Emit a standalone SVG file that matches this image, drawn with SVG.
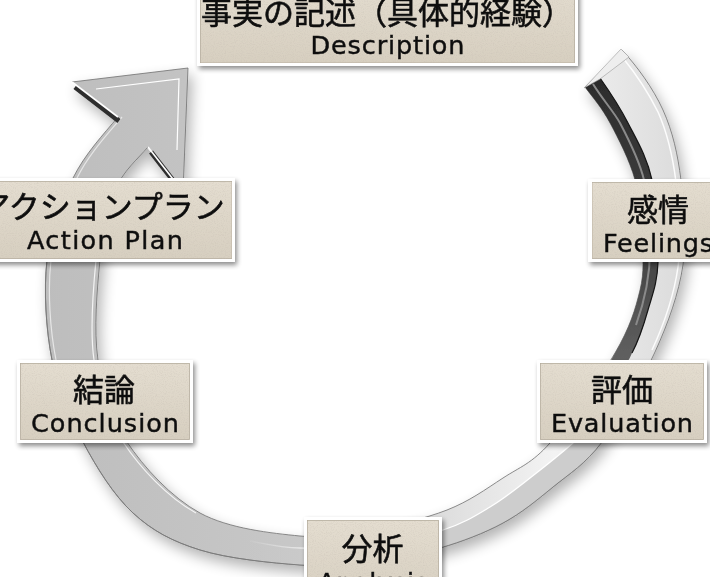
<svg xmlns="http://www.w3.org/2000/svg" width="710" height="577" viewBox="0 0 710 577">
<defs>
  <linearGradient id="gFace" gradientUnits="userSpaceOnUse" x1="40" y1="0" x2="700" y2="0">
    <stop offset="0" stop-color="#bdbdbd"/>
    <stop offset="0.45" stop-color="#c9c9c9"/>
    <stop offset="0.78" stop-color="#f3f3f3"/>
    <stop offset="1" stop-color="#d8d8d8"/>
  </linearGradient>
  <linearGradient id="gDark" x1="0" y1="0" x2="0" y2="1">
    <stop offset="0" stop-color="#2b2b2b"/>
    <stop offset="0.6" stop-color="#474747"/>
    <stop offset="1" stop-color="#6a6a6a"/>
  </linearGradient>
  <linearGradient id="gBeige" x1="0" y1="0" x2="0" y2="1">
    <stop offset="0" stop-color="#e4ddd0"/>
    <stop offset="1" stop-color="#d7cfc0"/>
  </linearGradient>
  <linearGradient id="gFadeW" gradientUnits="userSpaceOnUse" x1="245" y1="0" x2="345" y2="0">
    <stop offset="0" stop-color="#ffffff" stop-opacity="0"/>
    <stop offset="1" stop-color="#ffffff" stop-opacity="1"/>
  </linearGradient>
  <linearGradient id="gFadeS" gradientUnits="userSpaceOnUse" x1="230" y1="0" x2="330" y2="0">
    <stop offset="0" stop-color="#c6c6c6" stop-opacity="0"/>
    <stop offset="1" stop-color="#cdcdcd" stop-opacity="1"/>
  </linearGradient>
  <filter id="fRing" x="-20%" y="-20%" width="140%" height="140%">
    <feGaussianBlur in="SourceAlpha" stdDeviation="7"/>
    <feOffset dx="4" dy="7"/>
    <feComponentTransfer><feFuncA type="linear" slope="0.3"/></feComponentTransfer>
    <feMerge><feMergeNode/><feMergeNode in="SourceGraphic"/></feMerge>
  </filter>
  <filter id="fBox" x="-10%" y="-10%" width="125%" height="130%">
    <feGaussianBlur in="SourceAlpha" stdDeviation="2.5"/>
    <feOffset dx="2" dy="3"/>
    <feComponentTransfer><feFuncA type="linear" slope="0.45"/></feComponentTransfer>
    <feMerge><feMergeNode/><feMergeNode in="SourceGraphic"/></feMerge>
  </filter>
  <filter id="fGrain" x="0" y="0" width="100%" height="100%">
    <feTurbulence type="fractalNoise" baseFrequency="0.9" numOctaves="2" seed="7" result="n"/>
    <feColorMatrix in="n" type="matrix" values="0 0 0 0 0.55  0 0 0 0 0.5  0 0 0 0 0.44  0 0 0 0.9 -0.42" result="s"/>
    <feComposite in="s" in2="SourceGraphic" operator="in" result="t"/>
    <feMerge><feMergeNode in="SourceGraphic"/><feMergeNode in="t"/></feMerge>
  </filter>
  <style>
    .frame { fill: #ffffff; }
    .face { fill: url(#gBeige); stroke: #b3ab9b; stroke-width: 0.8; filter: url(#fGrain); }
    .cjk { font-family: 'Noto Sans CJK JP', 'Noto Sans CJK SC', sans-serif; font-size: 31px; font-weight: 400; fill: #111111; stroke: #111111; stroke-width: 0.6; text-anchor: middle; }
    .en { font-family: 'DejaVu Sans', 'Noto Sans', sans-serif; font-size: 25.5px; fill: #111111; stroke: #111111; stroke-width: 0.45; text-anchor: middle; }
  </style>
</defs>
<rect width="710" height="577" fill="#ffffff"/>

<g id="connectors">
  <g id="cycle-arrow" filter="url(#fRing)">
    <path id="ring" fill="url(#gFace)" stroke="#6e6e6e" stroke-width="0.8" d="M622,50 C636.7,65.8 653.2,88.3 663,110 C672.8,131.7 677.7,154.2 681,180 C684.3,205.8 687.3,236.3 683,265 C678.7,293.7 668.5,322.5 655,352 C641.5,381.5 619,419.5 602,442 C585,464.5 569.5,473.5 553,487 C536.5,500.5 521.8,512.8 503,523 C484.2,533.2 462.2,541.5 440,548 C417.8,554.5 393.3,559.2 370,562 C346.7,564.8 328.3,567 300,565 C271.7,563 227.8,558.7 200,550 C172.2,541.3 152.5,531 133,513 C113.5,495 96.5,467.5 83,442 C69.5,416.5 58,390.3 52,360 C46,329.7 43.5,290.3 47,260 C50.5,229.7 61.2,201.8 73,178 C84.8,154.2 103.5,134.2 118,117 L72,82 L188,68 L183,192 L148,147 C138,158.7 123,171.2 115,190 C107,208.8 102.8,231.7 100,260 C97.2,288.3 93.5,329.7 98,360 C102.5,390.3 110,416.5 127,442 C144,467.5 171.2,497.3 200,513 C228.8,528.7 271.7,533.2 300,536 C328.3,538.8 345.5,534.3 370,530 C394.5,525.7 424.8,518.7 447,510 C469.2,501.3 485.8,489.2 503,478 C520.2,466.8 531.3,463.8 550,443 C568.7,422.2 600,378.5 615,353 C630,327.5 635.5,308.8 640,290 C644.5,271.2 642.8,258.3 642,240 C641.2,221.7 640.3,199.5 635,180 C629.7,160.5 618.3,138.5 610,123 C601.7,107.5 593.3,98.3 585,87 Z"/>
    <!-- dark inner side, upper right -->
    <path fill="url(#gDark)" d="M585,87 C593.3,98.3 601.7,107.5 610,123 C618.3,138.5 629.7,160.5 635,180 C640.3,199.5 641.2,221.7 642,240 C642.8,258.3 644.5,271.2 640,290 C635.5,308.8 630,327.5 615,353 L592,395 Q625,372 632,353 C640,338 643.7,325.2 648,310 C652.3,294.8 657.3,283.7 658,262 C658.7,240.3 657,203.2 652,180 C647,156.8 636.7,140 628,123 C619.3,106 608,89.3 600,78 Z"/>
    <path fill="none" stroke="#8a8a8a" stroke-width="2" d="M593,84 C603,100 614,112 620,123 C630,142 640,163 644,180 C648,200 650,225 650,250 C650,275 645,300 636,325"/>
    <path fill="none" stroke="#151515" stroke-width="1.2" d="M632,353 C640,338 643.7,325.2 648,310 C652.3,294.8 657.3,283.7 658,262 C658.7,240.3 657,203.2 652,180 C647,156.8 636.7,140 628,123 C619.3,106 608,89.3 600,78"/>
    <!-- highlight on right face -->
    <path fill="none" stroke="#ffffff" stroke-width="1.5" opacity="0.9" transform="translate(-5,2)" d="M628,56 C641,72 654,92 663,110 C672.8,131.7 677.7,154.2 681,180 C684.3,205.8 687.3,236.3 683,265 C679,293 670,320 657,348"/>
    <!-- tail cut bevel -->
    <polygon points="584,88 621,49 629,57 600,79" fill="#eeeeee" stroke="#9a9a9a" stroke-width="0.6"/>
    <!-- bottom side strip -->
    <path fill="url(#gFadeS)" d="M611,428 L602,442 C585,464.5 569.5,473.5 553,487 C536.5,500.5 521.8,512.8 503,523 C484.2,533.2 462.2,541.5 440,548 C417.8,554.5 393.3,559.2 370,562 C346.7,564.8 328.3,567 300,565 C280,563.6 262,561.5 250,560 L250,541 C266.7,544 280,547.3 300,548 C320,548.7 346.2,548 370,545 C393.8,542 423,536.3 443,530 C463,523.7 475.5,515.7 490,507 C504.5,498.3 516.2,488.7 530,478 C543.8,467.3 563,451.8 573,443 L590,425 Z"/>
    <path fill="none" stroke="url(#gFadeW)" stroke-width="1.3" d="M250,541 C266.7,544 280,547.3 300,548 C320,548.7 346.2,548 370,545 C393.8,542 423,536.3 443,530 C463,523.7 475.5,515.7 490,507 C504.5,498.3 516.2,488.7 530,478 C543.8,467.3 563,451.8 573,443 L590,425"/>
    <path fill="none" stroke="#7a7a7a" stroke-width="0.9" d="M611,428 L602,442 C585,464.5 569.5,473.5 553,487 C536.5,500.5 521.8,512.8 503,523 C484.2,533.2 462.2,541.5 440,548 C417.8,554.5 393.3,559.2 370,562 C346.7,564.8 328.3,567 300,565 C271.7,563 227.8,558.7 200,550 C172.2,541.3 152.5,531 133,513 C113.5,495 96.5,467.5 83,442 C69.5,416.5 58,390.3 52,360 C46,329.7 43.5,290.3 47,260"/>
    <!-- left side bevel lines -->
    <path fill="none" stroke="#e6e6e6" stroke-width="1.2" transform="translate(4,0)" d="M83,442 C69.5,416.5 58,390.3 52,360 C46,329.7 43.5,290.3 47,260 C50.5,229.7 61.2,201.8 73,178 C84.8,154.2 103.5,134.2 118,117"/>
    <path fill="none" stroke="#f4f4f4" stroke-width="1.2" transform="translate(-4,0)" d="M115,190 C107,208.8 102.8,231.7 100,260 C97.2,288.3 93.5,329.7 98,360 C102.5,390.3 110,416.5 127,442 C144,467.5 171.2,497.3 200,513"/>
    <!-- arrowhead bevels -->
    <line x1="75" y1="87" x2="119" y2="121" stroke="#2e2e2e" stroke-width="5"/>
    <line x1="72" y1="82" x2="118" y2="117" stroke="#ffffff" stroke-width="1.6"/>
    <line x1="151" y1="152" x2="182" y2="192" stroke="#2e2e2e" stroke-width="5"/>
    <line x1="148" y1="147" x2="183" y2="192" stroke="#ffffff" stroke-width="1.6"/>
    <polyline points="96,89 179,79 177,150" fill="none" stroke="#ffffff" stroke-width="1.2"/>
  </g>
</g>

<g id="node-description" filter="url(#fBox)">
  <rect class="frame" x="197" y="-20" width="381" height="86"/>
  <rect class="face" x="200.5" y="-20" width="374" height="83"/>
  <text class="cjk" x="387" y="24" font-size="32">事実の記述（具体的経験）</text>
  <text class="en" x="387.5" y="54" textLength="154" lengthAdjust="spacing">Description</text>
</g>

<g id="node-action-plan" filter="url(#fBox)">
  <rect class="frame" x="-30" y="178" width="265" height="84"/>
  <rect class="face" x="-30" y="181.5" width="262" height="77"/>
  <text class="cjk" x="102" y="218">アクションプラン</text>
  <text class="en" x="105" y="249" textLength="156" lengthAdjust="spacing">Action Plan</text>
</g>

<g id="node-feelings" filter="url(#fBox)">
  <rect class="frame" x="588" y="179" width="140" height="83"/>
  <rect class="face" x="592" y="182.5" width="140" height="76"/>
  <text class="cjk" x="658" y="221">感情</text>
  <text class="en" x="658" y="252" textLength="110" lengthAdjust="spacing">Feelings</text>
</g>

<g id="node-conclusion" filter="url(#fBox)">
  <rect class="frame" x="17" y="360" width="176" height="83"/>
  <rect class="face" x="20.5" y="363.5" width="169" height="76"/>
  <text class="cjk" x="104" y="401">結論</text>
  <text class="en" x="105" y="432" textLength="148" lengthAdjust="spacing">Conclusion</text>
</g>

<g id="node-evaluation" filter="url(#fBox)">
  <rect class="frame" x="537" y="360" width="170" height="83"/>
  <rect class="face" x="540.5" y="363.5" width="163" height="76"/>
  <text class="cjk" x="622" y="401">評価</text>
  <text class="en" x="622" y="432" textLength="142" lengthAdjust="spacing">Evaluation</text>
</g>

<g id="node-analysis" filter="url(#fBox)">
  <rect class="frame" x="304" y="517" width="138" height="83"/>
  <rect class="face" x="307.5" y="520.5" width="131" height="80"/>
  <text class="cjk" x="372.5" y="560">分析</text>
  <text class="en" x="373" y="591" textLength="110" lengthAdjust="spacing">Analysis</text>
</g>
</svg>
